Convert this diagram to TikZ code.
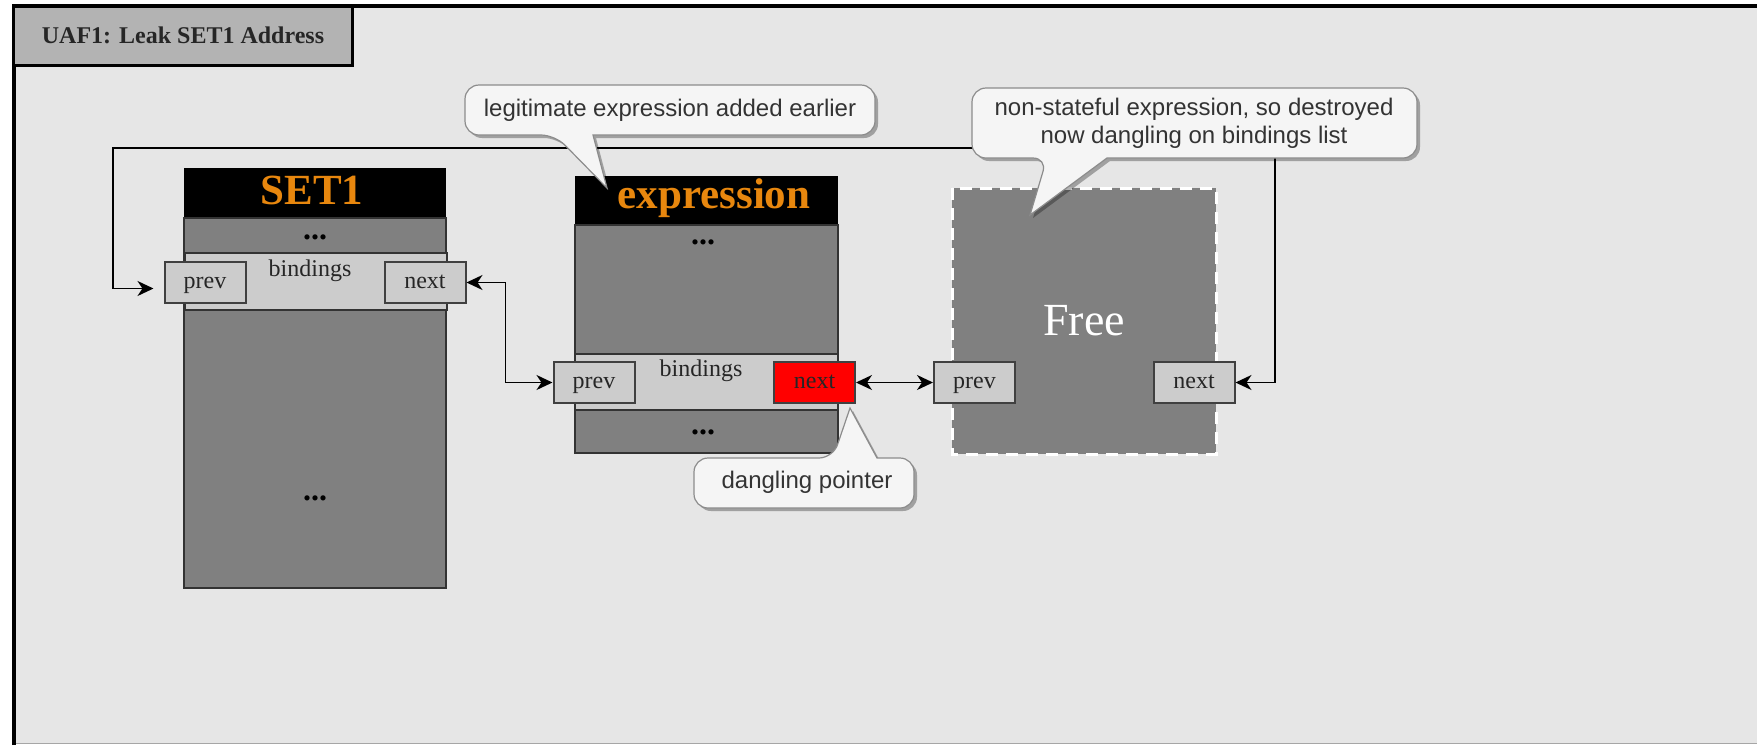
\documentclass[tikz,border=0pt]{standalone}
\usepackage{fontspec}
\setmainfont{Liberation Serif}
\setsansfont{Liberation Sans}
\usetikzlibrary{arrows.meta,shadows}

\definecolor{panelgrey}{HTML}{E6E6E6}
\definecolor{tabgrey}{HTML}{B3B3B3}
\definecolor{chunkgrey}{HTML}{808080}
\definecolor{fieldgrey}{HTML}{CCCCCC}
\definecolor{hdrorange}{HTML}{E8870E}
\definecolor{notefill}{HTML}{F5F5F5}
\definecolor{notegrey}{HTML}{333333}

\begin{document}
\begin{tikzpicture}
  [x=.5pt,y=-.5pt,>={Stealth[length=8pt,width=7.5pt,inset=2.5pt]},
   tab/.style={draw=black,line width=1.5pt,fill=tabgrey,minimum width=169.5pt,minimum height=29.5pt,inner sep=0pt,text=black!85,font=\fontsize{12}{14}\selectfont\bfseries},
   chunk/.style={draw=black!80,line width=.8pt,fill=chunkgrey},
   band/.style={draw=black!80,line width=.8pt,fill=fieldgrey},
   hdr/.style={text=hdrorange,font=\fontsize{21.5}{24}\selectfont\bfseries},
   ellip/.style={font=\fontsize{16}{18}\selectfont\bfseries},
   lbl/.style={text=black!85,font=\fontsize{12}{14}\selectfont},
   field/.style={draw=black!75,line width=1pt,text=black!85,minimum width=40.5pt,minimum height=20.5pt,inner sep=0pt,text height=8.5pt,text depth=2.5pt,font=\fontsize{12}{14}\selectfont},
   link/.style={<->,line width=.8pt},
   note/.style={draw=black!45,line width=.6pt,fill=notefill,rounded corners=7pt,drop shadow={shadow xshift=1.5pt,shadow yshift=-1.5pt,opacity=.3,fill=black}},
   notelbl/.style={text=notegrey,font=\sffamily\fontsize{12}{14}\selectfont}]
  \useasboundingbox (0,0) rectangle (1757,745);
  \fill[panelgrey] (12,4) rectangle (1757,743);
  \draw[black!35,line width=.5pt] (12,743.5) -- (1757,743.5);
  \draw[line width=2pt] (13.5,745) -- (13.5,6) -- (1757,6);
  \node[tab] (title) at (183,35.5) {UAF1: Leak SET1 Address};

  \fill (184,168) rectangle (446,218);
  \draw[chunk] (184,218) rectangle (446,588);
  \draw[band] (185,253) rectangle (447,310);
  \node[hdr] (set1) at (312,190) {SET1};
  \node[ellip] (set1top) at (315,237) {...};
  \node[lbl] (set1bind) at (310,271) {bindings};
  \node[ellip] (set1low) at (315,498) {...};

  \fill (575,176) rectangle (838,225);
  \draw[chunk] (575,225) rectangle (838,453);
  \draw[band] (575,354) rectangle (838,410);
  \node[hdr] (expr) at (714,198) {expression};
  \node[ellip] (exprtop) at (703,242) {...};
  \node[lbl] (exprbind) at (701,371) {bindings};
  \node[ellip] (exprlow) at (703,432) {...};

  \draw[chunk,draw=white,line width=1.5pt,dash pattern=on 6pt off 4pt] (952,188) rectangle (1216,454);
  \node[text=white,font=\fontsize{23}{26}\selectfont] (free) at (1084,321) {Free};

  \foreach \name/\x/\y/\txt/\col in {s1prev/205/282.5/prev/fieldgrey,s1next/425/282.5/next/fieldgrey,
      exprev/594/382.5/prev/fieldgrey,exnext/814.5/382.5/next/red,
      frprev/974.5/382.5/prev/fieldgrey,frnext/1194/382.5/next/fieldgrey}
    \node[field,fill=\col] (\name) at (\x,\y) {\txt};

  \coordinate (loopr) at (1275,148);
  \coordinate (loopl) at (113,148);
  \draw[link] (s1next.east) -- ++(39,0) |- (exprev.west);
  \draw[link] (exnext) -- (frprev);
  \draw[link,shorten >=5pt] (frnext.east) -| (loopr) -- (loopl) |- ([yshift=-3pt]s1prev.west);

  \draw[note] (593,135) -- (875,135) -- (875,85) -- (465,85) -- (465,135) -- (555,135) [sharp corners] -- (607,188) -- cycle;
  \node[notelbl] (legit) at (670,110) {legitimate expression added earlier};

  \draw[note] (1107,158) -- (1417,158) -- (1417,88) -- (972,88) -- (972,158) -- (1047,158) [sharp corners] -- (1030,215) -- cycle;
  \node[notelbl,align=center] (destroyed) at (1194,123) {non-stateful expression, so destroyed\\now dangling on bindings list};

  \draw[note] (877,458) -- (914,458) -- (914,508) -- (694,508) -- (694,458) -- (833,458) [sharp corners] -- (850,408) -- cycle;
  \node[notelbl] (dangling) at (807,482) {dangling pointer};
\end{tikzpicture}
\end{document}
